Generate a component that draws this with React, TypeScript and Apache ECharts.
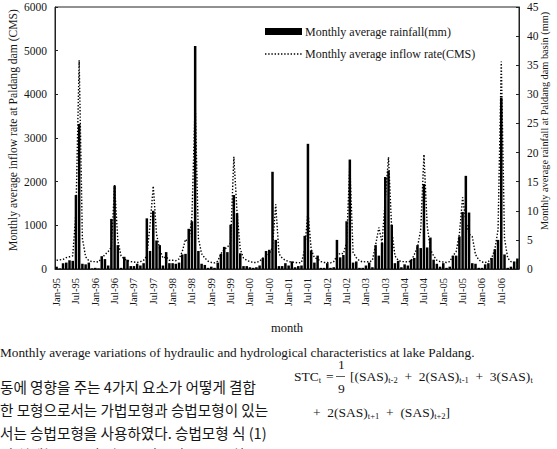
import React, { useEffect, useRef } from "react";
import * as echarts from "echarts";

const FONT = '"Liberation Serif", "Times New Roman", serif';
const KFONT = '"Noto Sans CJK KR", "Noto Sans", sans-serif';

const monthNames = ["Jan", "Feb", "Mar", "Apr", "May", "Jun", "Jul", "Aug", "Sep", "Oct", "Nov", "Dec"];
const yearCodes = ["95", "96", "97", "98", "99", "00", "01", "02", "03", "04", "05", "06"];
const categories = yearCodes.flatMap((y) => monthNames.map((m) => `${m}-${y}`));

// Monthly average rainfall (mm), right axis
const rain1995 = [0.4, 0.1, 1.0, 1.1, 1.5, 1.4, 12.7, 24.9, 0.9, 0.8, 1.1, 0.1];
const rain1996 = [0.2, 0.1, 2.2, 1.7, 0.6, 8.6, 14.3, 4.1, 0.2, 2.1, 1.6, 0.5];
const rain1997 = [0.5, 0.9, 0.6, 1.0, 8.7, 3.1, 10.0, 4.9, 4.1, 0.6, 2.9, 1.0];
const rain1998 = [1.0, 0.9, 1.1, 2.5, 2.6, 6.9, 8.2, 38.3, 3.1, 0.9, 0.7, 0.2];
const rain1999 = [0.4, 0.2, 1.1, 2.6, 3.8, 2.9, 7.6, 12.7, 9.6, 2.7, 0.5, 0.5];
const rain2000 = [0.3, 0.2, 0.3, 0.6, 1.9, 3.1, 3.3, 16.7, 5.0, 0.5, 0.5, 1.0];
const rain2001 = [0.6, 1.3, 0.3, 0.5, 0.6, 5.7, 21.5, 3.2, 1.1, 2.3, 0.2, 0.2];
const rain2002 = [1.0, 0.2, 0.3, 5.0, 2.0, 2.4, 8.2, 18.8, 1.1, 1.3, 0.2, 0.2];
const rain2003 = [0.6, 1.1, 0.3, 4.1, 2.3, 4.5, 15.8, 16.9, 7.6, 1.0, 1.4, 0.3];
const rain2004 = [0.8, 0.6, 1.6, 1.9, 4.1, 3.6, 14.6, 3.7, 5.4, 1.6, 0.9, 0.4];
const rain2005 = [1.0, 0.2, 0.4, 2.3, 2.3, 5.6, 9.8, 16.0, 9.7, 1.0, 0.9, 0.2];
const rain2006 = [0.2, 0.8, 1.0, 1.9, 3.4, 5.0, 29.4, 2.5, 0.2, 0.4, 1.3, 1.8];

// Monthly average inflow rate (CMS), left axis
const flow1995 = [200, 210, 220, 260, 280, 300, 1300, 4780, 700, 280, 190, 170];
const flow1996 = [170, 160, 250, 330, 400, 500, 1920, 650, 300, 230, 190, 170];
const flow1997 = [160, 150, 170, 200, 300, 1000, 1900, 800, 450, 250, 280, 200];
const flow1998 = [200, 190, 230, 400, 680, 600, 1200, 3830, 700, 350, 250, 180];
const flow1999 = [150, 140, 180, 350, 450, 500, 600, 2570, 1300, 450, 250, 200];
const flow2000 = [170, 150, 150, 180, 250, 300, 350, 500, 1480, 350, 250, 200];
const flow2001 = [170, 160, 150, 140, 150, 450, 1320, 450, 260, 230, 170, 150];
const flow2002 = [150, 140, 170, 300, 360, 350, 600, 2400, 380, 260, 190, 160];
const flow2003 = [170, 160, 200, 550, 950, 600, 1600, 2560, 900, 300, 200, 170];
const flow2004 = [170, 160, 180, 330, 500, 900, 2620, 1000, 450, 300, 200, 170];
const flow2005 = [160, 150, 170, 300, 400, 800, 1640, 1100, 800, 740, 330, 210];
const flow2006 = [160, 150, 170, 250, 450, 900, 4750, 700, 250, 170, 140, 140];

const rainfall = [
  ...rain1995, ...rain1996, ...rain1997, ...rain1998, ...rain1999, ...rain2000,
  ...rain2001, ...rain2002, ...rain2003, ...rain2004, ...rain2005, ...rain2006,
];
const inflow = [
  ...flow1995, ...flow1996, ...flow1997, ...flow1998, ...flow1999, ...flow2000,
  ...flow2001, ...flow2002, ...flow2003, ...flow2004, ...flow2005, ...flow2006,
];

const RAIN_NAME = "Monthly average rainfall(mm)";
const FLOW_NAME = "Monthly average inflow rate(CMS)";
const LEFT_TITLE = "Monthly average inflow rate at Paldang dam (CMS)";
const RIGHT_TITLE = "Monthly average rainfall at Paldang dam basin (mm)";
const X_TITLE = "month";
const CAPTION = "Monthly average variations of hydraulic and hydrological characteristics at lake Paldang.";
const KOREAN_LINES = [
  "동에 영향을 주는 4가지 요소가 어떻게 결합",
  "한 모형으로서는 가법모형과 승법모형이 있는",
  "서는 승법모형을 사용하였다. 승법모형 식 (1)",
  "의 실제농도를 각 변동요인들의 곱으로 최근",
];

const TXT = "#151515";
const DOTS = [1.4, 1.8];

export default function App() {
  const ref = useRef<HTMLDivElement>(null);
  useEffect(() => {
    if (!ref.current) return;
    const chart = echarts.init(ref.current, null, { renderer: "svg" });
    const rich = {
      s: { fontFamily: FONT, fontSize: 8.5, padding: [7, 0, 0, 0], fill: TXT },
    };
    const serif = (text: string, x: number, y: number, size = 13.5, extra: any = {}) => ({
      type: "text",
      x,
      y,
      style: {
        text,
        fontFamily: FONT,
        fontSize: size,
        fill: TXT,
        verticalAlign: "middle",
        rich,
        ...extra,
      },
    });
    chart.setOption({
      animation: false,
      backgroundColor: "#fff",
      grid: {
        left: 55,
        right: 38,
        top: 7,
        bottom: 180,
        show: true,
        borderColor: "#222",
        borderWidth: 1,
        backgroundColor: "transparent",
      },
      xAxis: {
        type: "category",
        data: categories,
        boundaryGap: true,
        axisLine: { lineStyle: { color: "#222", width: 1 } },
        axisTick: { show: false },
        axisLabel: {
          interval: 5,
          rotate: 90,
          fontFamily: FONT,
          fontSize: 10.5,
          color: TXT,
          margin: 9,
        },
        name: X_TITLE,
        nameLocation: "middle",
        nameGap: 52,
        nameTextStyle: { fontFamily: FONT, fontSize: 12.5, color: TXT },
      },
      yAxis: [
        {
          type: "value",
          position: "left",
          min: 0,
          max: 6000,
          interval: 1000,
          axisLine: { show: true, lineStyle: { color: "#222" } },
          axisTick: { show: true, inside: true, length: 3, lineStyle: { color: "#222" } },
          splitLine: { show: false },
          axisLabel: {
            fontFamily: FONT,
            fontSize: 11.5,
            color: TXT,
            margin: 8,
            formatter: (v: number) => String(v),
          },
        },
        {
          type: "value",
          position: "right",
          min: 0,
          max: 45,
          interval: 5,
          axisLine: { show: true, lineStyle: { color: "#222" } },
          axisTick: { show: true, inside: true, length: 3, lineStyle: { color: "#222" } },
          splitLine: { show: false },
          axisLabel: { fontFamily: FONT, fontSize: 11.5, color: TXT, margin: 8 },
        },
      ],
      series: [
        {
          type: "bar",
          name: RAIN_NAME,
          yAxisIndex: 1,
          data: rainfall,
          barCategoryGap: "22%",
          itemStyle: { color: "#000" },
          z: 2,
        },
        {
          type: "line",
          name: FLOW_NAME,
          yAxisIndex: 0,
          data: inflow,
          symbol: "none",
          showSymbol: false,
          lineStyle: { color: "#000", width: 1.4, type: DOTS },
          itemStyle: { color: "#000" },
          z: 3,
        },
      ],
      graphic: [
        // axis titles
        {
          type: "text",
          x: 13,
          y: 130,
          rotation: Math.PI / 2,
          style: {
            text: LEFT_TITLE,
            fontFamily: FONT,
            fontSize: 11.6,
            fill: TXT,
            align: "center",
            verticalAlign: "middle",
          },
        },
        {
          type: "text",
          x: 544,
          y: 121,
          rotation: Math.PI / 2,
          style: {
            text: RIGHT_TITLE,
            fontFamily: FONT,
            fontSize: 10.3,
            fill: TXT,
            align: "center",
            verticalAlign: "middle",
          },
        },
        // legend
        { type: "rect", shape: { x: 265, y: 28, width: 37, height: 7 }, style: { fill: "#000" } },
        serif(RAIN_NAME, 305, 31.5, 12),
        {
          type: "line",
          shape: { x1: 265, y1: 54, x2: 302, y2: 54 },
          style: { stroke: "#000", lineWidth: 1.4, lineDash: DOTS },
        },
        serif(FLOW_NAME, 305, 54, 12),
        // caption and page text
        serif(CAPTION, 0, 352, 13.3),
        ...KOREAN_LINES.map((line, i) => ({
          type: "text",
          x: 0,
          y: [386, 409, 432, 454][i],
          style: {
            text: line,
            fontFamily: KFONT,
            fontSize: 14.6,
            fill: TXT,
            verticalAlign: "middle",
          },
        })),
        serif("STC{s|t}", 294, 376),
        serif("=", 326, 376),
        serif("1", 338, 364),
        { type: "line", shape: { x1: 336, y1: 376.5, x2: 345, y2: 376.5 }, style: { stroke: TXT, lineWidth: 0.7 } },
        serif("9", 338, 388.5),
        serif("[(SAS){s|t-2}  +  2(SAS){s|t-1}  +  3(SAS){s|t}", 350, 376),
        serif("+  2(SAS){s|t+1}  +  (SAS){s|t+2}]", 313, 412),
      ],
    });
    return () => chart.dispose();
  }, []);
  return (
    <div
      ref={ref}
      style={{ position: "fixed", left: 0, top: 0, width: 557, height: 449, background: "#fff" }}
    />
  );
}
